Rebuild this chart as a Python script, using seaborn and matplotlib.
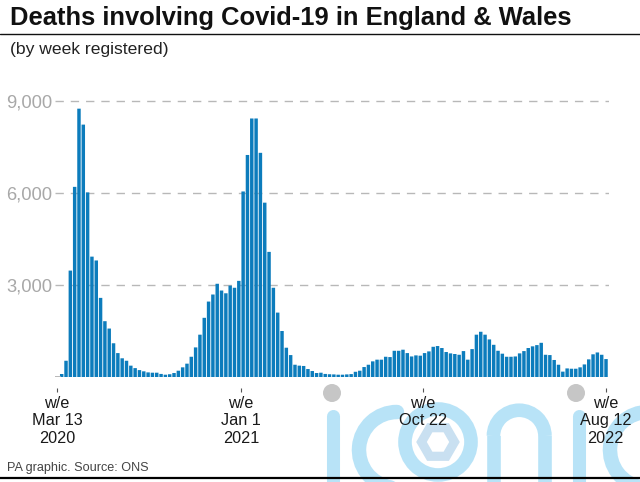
import numpy as np
import pandas as pd
import seaborn as sns
import matplotlib.pyplot as plt
from matplotlib.patches import Arc, Circle, RegularPolygon

# Weekly values
deaths_spring_2020 = [98, 530, 3470, 6200, 8750, 8230, 6020, 3925, 3800, 2580, 1820, 1580, 1100, 780,
                      610, 530, 370, 290, 225, 185, 150, 140, 140, 100, 75, 90, 130, 205, 315, 435,
                      660, 965]
deaths_winter_2021 = [1380, 1930, 2460, 2690, 3040, 2820, 2730, 2980, 2910, 3135, 6050, 7240, 8430, 8430,
                      7310, 5685, 4080, 2910, 2100, 1500, 955, 715, 400, 370, 360, 260, 195, 130, 140,
                      100, 90, 85, 75, 75, 85, 95, 170, 205, 325, 400, 510, 565, 565, 660, 650, 855,
                      855, 890, 780, 670, 705]
deaths_late = [695, 780, 835, 985, 1010, 945, 815, 770, 750, 725, 845, 565, 910, 1380, 1475, 1380, 1225,
               1050, 855, 760, 660, 660, 670, 770, 845, 945, 1000, 1040, 1115, 725, 715, 555, 400, 175,
               280, 270, 270, 315, 410, 575, 740, 800, 725, 585]
deaths = deaths_spring_2020 + deaths_winter_2021 + deaths_late
weeks = list(range(len(deaths)))

y_ticks = [3000, 6000, 9000]
y_labels = ["3,000", "6,000", "9,000"]
x_labels = ["w/e\nMar 13\n2020", "w/e\nJan 1\n2021", "w/e\nOct 22", "w/e\nAug 12\n2022"]
x_label_px = [57, 241, 422.7, 605.5]

W, H = 640, 482
BAR_START = 61.7  # pixel centre of the first bar
BAR_STEP = 4.32
BASELINE = 377
PX_PER_3000 = 92

sns.set_theme(style="white")
plt.rcParams["font.family"] = ["Liberation Sans", "DejaVu Sans"]

fig = plt.figure(figsize=(W / 100, H / 100), dpi=100, facecolor="white")

# Watermark sits behind everything, drawn in pixel coordinates
bg = fig.add_axes([0, 0, 1, 1], zorder=0)
bg.set_xlim(0, W)
bg.set_ylim(H, 0)
bg.axis("off")
wm = "#b8e3f7"
for x, top in [(333, 416), (578.5, 416)]:
    bg.plot([x, x], [top, H + 5], color=wm, lw=9.4, solid_capstyle="round")
bg.add_patch(Arc((397, 450), 76, 76, theta1=100, theta2=270, color=wm, lw=10.4, capstyle="round"))
bg.add_patch(Arc((648, 450), 76, 76, theta1=100, theta2=270, color=wm, lw=10.4, capstyle="round"))
bg.add_patch(Circle((438, 442), 33, fill=False, ec=wm, lw=9.8))
bg.add_patch(RegularPolygon((438, 442), 6, radius=16.5, orientation=np.pi / 2, fill=False, ec="#c9e0f1", lw=6.6))
bg.plot([493.5, 493.5], [436, H + 5], color=wm, lw=9.8, solid_capstyle="butt")
bg.plot([545, 545], [436, H + 5], color=wm, lw=9.8, solid_capstyle="butt")
bg.add_patch(Arc((519.2, 436), 51.5, 51.5, theta1=180, theta2=360, color=wm, lw=9.8))
for x in (332, 576):
    bg.add_patch(Circle((x, 393), 9, color="#c6c6c6", lw=0))

# Main axes, from 55px to 609px across and 90px to the baseline down
left, right, top = 55, 609, 90
ax = fig.add_axes([left / W, 1 - BASELINE / H, (right - left) / W, (BASELINE - top) / H], zorder=1)
ax.patch.set_alpha(0)

df = pd.DataFrame({"week": weeks, "deaths": deaths})
sns.barplot(data=df, x="week", y="deaths", native_scale=True, width=0.8, color="#0c7cbc",
            saturation=1, linewidth=0, ax=ax)
for bar in ax.patches:
    bar.set_snap(False)

ax.set_xlim((left - BAR_START) / BAR_STEP, (right - BAR_START) / BAR_STEP)
ax.set_ylim(0, (BASELINE - top) * 3000 / PX_PER_3000)
ax.set_xlabel("")
ax.set_ylabel("")

ax.set_yticks(y_ticks, y_labels)
ax.tick_params(axis="y", length=0, pad=2, labelsize=13.2, labelcolor="#a8a8a8")
ax.yaxis.grid(True, color="#b8b8b8", lw=1, dashes=(6, 5))
ax.set_axisbelow(True)

# short stub of the zero gridline left of the first bar
ax.axhline(0, xmax=(60 - left) / (right - left), color="#b8b8b8", lw=1.4)

ax.set_xticks([(p - BAR_START) / BAR_STEP for p in x_label_px], x_labels)
ax.tick_params(axis="x", length=3, width=0.8, color="#555555", pad=2.5, labelsize=11.7,
               labelcolor="#1a1a1a", bottom=True)
for lab in ax.get_xticklabels():
    lab.set_linespacing(1.06)
    lab.set_verticalalignment("top")

ax.spines["bottom"].set_position(("outward", 8))
for side in ["top", "right", "left", "bottom"]:
    ax.spines[side].set_visible(False)

# Title block and footer
fig.text(10 / W, 1 - 25 / H, "Deaths involving Covid-19 in England & Wales", fontsize=18.4,
         fontweight="bold", color="#111111", va="baseline", zorder=3)
fig.text(10 / W, 1 - 54 / H, "(by week registered)", fontsize=12.6, color="#222222", va="baseline", zorder=3)
fig.text(7 / W, 1 - 471 / H, "PA graphic. Source: ONS", fontsize=9.1, color="#444444", va="baseline", zorder=3)
bg.plot([0, W], [33.8, 33.8], color="#111111", lw=1)
bg.plot([0, W], [477.7, 477.7], color="#000000", lw=1.6)

fig.savefig("out.png", dpi=100)
